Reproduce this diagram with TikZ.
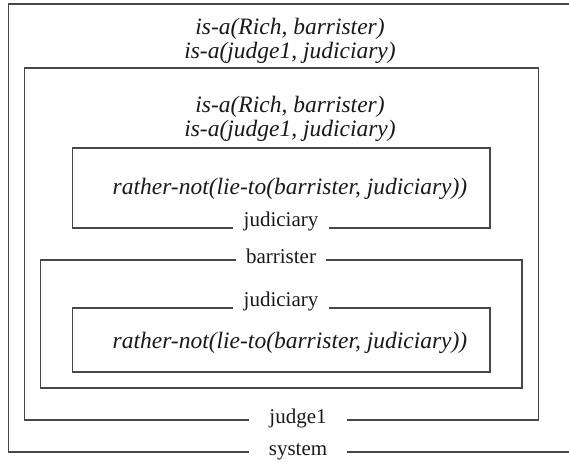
\documentclass[tikz,border=0pt]{standalone}
\usepackage{fontspec}
\setmainfont{Liberation Serif}
\begin{document}
\begin{tikzpicture}[x=1pt,y=-1pt,
  frame/.style={draw=black!72, line width=1.2pt},
  fact/.style={font=\fontsize{23.5}{24}\selectfont\itshape, text=black!90, inner sep=0pt, anchor=base},
  tag/.style={font=\fontsize{21}{24}\selectfont, text=black!90, inner xsep=10pt, inner ysep=0pt, text height=12pt, text depth=6pt},
  hightag/.style={tag, text height=8pt, text depth=12pt},
  widetag/.style={tag, inner xsep=20pt}]
\useasboundingbox (0,0) rectangle (569,462);

% facts held in each context
\node[fact] (f1) at (290,35)  {is-a(Rich, barrister)};
\node[fact] (f2) at (290,59)  {is-a(judge1, judiciary)};
\node[fact] (f3) at (290,113) {is-a(Rich, barrister)};
\node[fact] (f4) at (290,137) {is-a(judge1, judiciary)};
\node[fact] (r1) at (290,194) {rather-not(lie-to(barrister, judiciary))};
\node[fact] (r2) at (290,348) {rather-not(lie-to(barrister, judiciary))};

% context names set into the frame lines
\node[hightag] (jud1) at (281,228) {judiciary};
\node[tag] (bar)  at (281,260) {barrister};
\node[hightag] (jud2) at (281,308) {judiciary};
\node[widetag] (jdg) at (298,420) {judge1};
\node[widetag] (sys) at (298,452) {system};

% free ends of the outermost frame, running off the right side
\coordinate (sysTR) at (569,4);
\coordinate (sysBR) at (569,452);

% judiciary context inside judge1 (name at the bottom)
\draw[frame] (jud1.west) -- (72.7,228) -- (72.7,148) -- (490,148) -- (490,228) -- (jud1.east);
% barrister context (name at the top)
\draw[frame] (bar.east) -- (522,260) -- (522,388) -- (40.7,388) -- (40.7,260) -- (bar.west);
% judiciary context inside barrister (name at the top)
\draw[frame] (jud2.east) -- (490,308) -- (490,372) -- (72.7,372) -- (72.7,308) -- (jud2.west);
% judge1 context
\draw[frame] (jdg.west) -- (24.5,420) -- (24.5,68) -- (538.5,68) -- (538.5,420) -- (jdg.east);
% system context
\draw[frame] (sys.west) -- (8.5,452) -- (8.5,4) -- (sysTR);
\draw[frame] (sys.east) -- (sysBR);
\end{tikzpicture}
\end{document}
